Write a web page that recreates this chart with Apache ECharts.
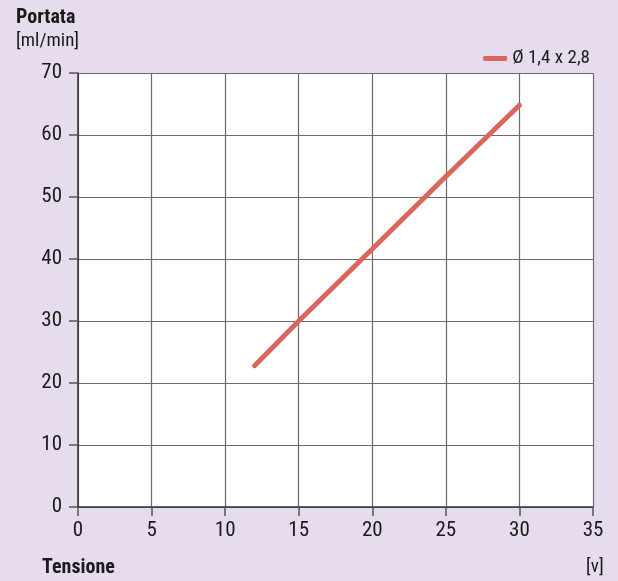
<!DOCTYPE html>
<html><head><meta charset="utf-8">
<script src="https://cdn.jsdelivr.net/npm/echarts@6/dist/echarts.min.js"></script>
<style>html,body{margin:0;padding:0;background:#e7dced;}#c{width:618px;height:581px;}</style>
</head><body><div id="c"></div>
<script>
const seriesName = 'Ø 1,4 x 2,8';
const tensione = [12, 15, 20, 25, 30];
const portata = [22.8, 30, 41.6, 53.3, 64.8];
const xTicks = [0, 5, 10, 15, 20, 25, 30, 35];
const yTicks = [0, 10, 20, 30, 40, 50, 60, 70];
const FONT = '"Liberation Sans Narrow", "Roboto Condensed", Roboto, sans-serif';
const chart = echarts.init(document.getElementById('c'));
chart.setOption({
  backgroundColor: '#e7dced',
  animation: false,
  textStyle: {fontFamily: FONT},
  grid: {left: 78, right: 25, top: 73, bottom: 74, show: true, backgroundColor: '#ffffff', borderWidth: 0},
  graphic: [
    {type: 'text', left: 16, top: 8, style: {text: 'Portata', font: 'bold 20px ' + FONT, fill: '#1a1a1a'}},
    {type: 'text', left: 16, top: 32, style: {text: '[ml/min]', font: '19px ' + FONT, fill: '#1a1a1a'}},
    {type: 'text', left: 42, top: 558, style: {text: 'Tensione', font: 'bold 20px ' + FONT, fill: '#1a1a1a'}},
    {type: 'text', left: 586, top: 558, style: {text: '[v]', font: '19px ' + FONT, fill: '#1a1a1a'}}
  ],
  legend: {
    data: [seriesName], right: 23, top: 44, itemWidth: 24, itemHeight: 5, itemGap: 6,
    icon: 'roundRect',
    textStyle: {fontFamily: FONT, fontSize: 19, color: '#1a1a1a'}
  },
  xAxis: {
    type: 'value', min: xTicks[0], max: xTicks[xTicks.length - 1], interval: 5,
    axisLine: {show: true, onZero: false, lineStyle: {color: '#333', width: 1.5}},
    axisTick: {show: true, length: 9, lineStyle: {color: '#555', width: 1.5}},
    axisLabel: {fontFamily: FONT, fontSize: 21, color: '#1a1a1a', margin: 13},
    splitLine: {show: true, lineStyle: {color: '#6a6a6a', width: 1.2}}
  },
  yAxis: {
    type: 'value', min: yTicks[0], max: yTicks[yTicks.length - 1], interval: 10,
    axisLine: {show: true, onZero: false, lineStyle: {color: '#333', width: 1.5}},
    axisTick: {show: true, length: 9, lineStyle: {color: '#555', width: 1.5}},
    axisLabel: {fontFamily: FONT, fontSize: 21, color: '#1a1a1a', margin: 16},
    splitLine: {show: true, lineStyle: {color: '#6a6a6a', width: 1.2}}
  },
  series: [{
    name: seriesName, type: 'line', showSymbol: false, symbol: 'none',
    data: tensione.map((t, i) => [t, portata[i]]),
    lineStyle: {color: '#d9675b', width: 5, cap: 'round'},
    itemStyle: {color: '#d9675b'}
  }]
});
</script></body></html>
